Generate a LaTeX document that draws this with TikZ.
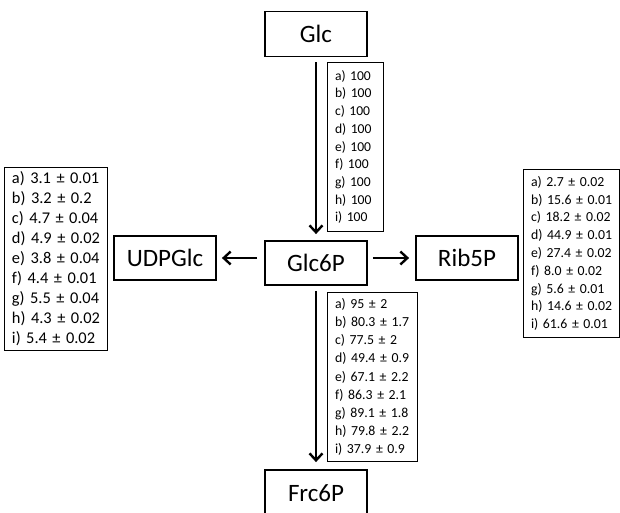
\documentclass[tikz,border=0pt]{standalone}
\usepackage{fontspec}
\setmainfont{Carlito}
\usetikzlibrary{arrows.meta}
\begin{document}
\begin{tikzpicture}[x=1pt,y=-1pt,
  lbl/.style={draw, line width=1.8pt, minimum width=102pt, minimum height=45pt, inner sep=0pt, font=\fontsize{25}{30}\selectfont},
  databox/.style={draw, line width=1pt, anchor=north west, align=left, inner xsep=7.5pt, inner ysep=0pt},
  arr/.style={line width=2.4pt, -{Straight Barb[length=7pt,width=13pt]}}]
\useasboundingbox (0,0) rectangle (620,513);
\clip (0,0) rectangle (620,513);
% main boxes
\node[lbl] (glc) at (316,34) {Glc};
\node[lbl, minimum height=44pt] (g6p) at (316,263) {Glc6P};
\node[lbl, minimum height=44pt] (udp) at (165,258) {UDPGlc};
\node[lbl, minimum height=44pt] (rib) at (467,258) {Rib5P};
\node[lbl, minimum height=46pt] (frc) at (316,493) {Frc6P};
% arrows
\draw[arr, shorten <=5pt, shorten >=6pt] (glc.south) -- (g6p.north);
\draw[arr, shorten <=5pt, shorten >=7pt] (g6p.south) -- (frc.north);
\draw[arr, shorten <=7pt, shorten >=5pt] (g6p.west |- udp.east) -- (udp.east);
\draw[arr, shorten <=5pt, shorten >=6pt] (g6p.east |- rib.west) -- (rib.west);
% data boxes
\node[databox, text width=41pt, minimum height=169pt, font=\fontsize{13.6}{17.7}\selectfont] (dtop) at (327,62)
  {a)~100\\ b)~100\\ c)~100\\ d)~100\\ e)~100\\ f)~100\\ g)~100\\ h)~100\\ i)~100};
\node[databox, text width=75pt, minimum height=169pt, font=\fontsize{13.8}{18.2}\selectfont] (dbot) at (327,292)
  {a)~95~±~2\\ b)~80.3~±~1.7\\ c)~77.5~±~2\\ d)~49.4~±~0.9\\ e)~67.1~±~2.2\\ f)~86.3~±~2.1\\ g)~89.1~±~1.8\\ h)~79.8~±~2.2\\ i)~37.9~±~0.9};
\node[databox, text width=81pt, minimum height=168pt, font=\fontsize{13.8}{17.8}\selectfont] (drib) at (523,169)
  {a)~2.7~±~0.02\\ b)~15.6~±~0.01\\ c)~18.2~±~0.02\\ d)~44.9~±~0.01\\ e)~27.4~±~0.02\\ f)~8.0~±~0.02\\ g)~5.6~±~0.01\\ h)~14.6~±~0.02\\ i)~61.6~±~0.01};
\node[databox, text width=88pt, minimum height=183pt, font=\fontsize{16.4}{20}\selectfont] (dudp) at (4,167)
  {a)~3.1~±~0.01\\ b)~3.2~±~0.2\\ c)~4.7~±~0.04\\ d)~4.9~±~0.02\\ e)~3.8~±~0.04\\ f)~4.4~±~0.01\\ g)~5.5~±~0.04\\ h)~4.3~±~0.02\\ i)~5.4~±~0.02};
\end{tikzpicture}
\end{document}
